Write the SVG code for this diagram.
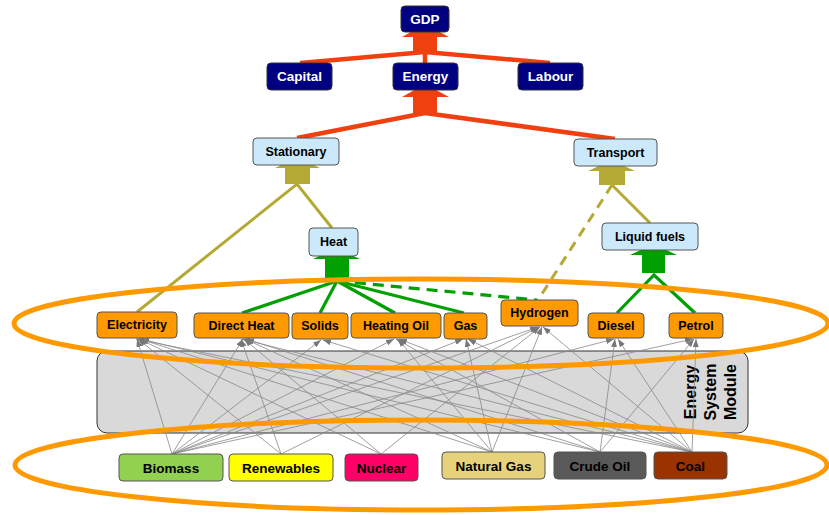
<svg xmlns="http://www.w3.org/2000/svg" width="829" height="515" viewBox="0 0 829 515">
<style>
text{font-family:"Liberation Sans",Arial,sans-serif;font-weight:bold;text-anchor:middle;dominant-baseline:central}
.navy rect{fill:#000080;stroke:#333;stroke-width:1}
.navy text{fill:#fff;font-size:13.5px}
.blue rect{fill:#cce9fb;stroke:#555;stroke-width:1}
.blue text{fill:#000;font-size:12.5px}
.org rect{fill:#ff9900;stroke:#555;stroke-width:1}
.org text{fill:#000;font-size:12.5px}
.src rect{stroke:#555;stroke-width:1}
.src text{fill:#000;font-size:13.5px}
.red{stroke:#f0400f;stroke-width:4.5;fill:none}
.olive{stroke:#b5a935;stroke-width:3;fill:none}
.green{stroke:#00a000;stroke-width:3.2;fill:none}
.gl line{stroke:#888;stroke-width:0.8;marker-end:url(#ah)}
.ring{fill:none;stroke:#ff9900;stroke-width:5}
</style>
<defs>
<marker id="ah" markerUnits="userSpaceOnUse" markerWidth="9" markerHeight="7" refX="8" refY="3" orient="auto"><path d="M0,0 L8,3 L0,6 z" fill="#777"/></marker>
</defs>
<rect width="829" height="515" fill="#fff"/>
<g id="module">
<rect x="97" y="351" width="651" height="82" rx="10" fill="#d9d9d9" stroke="#333" stroke-width="1"/>
<text transform="translate(690,392) rotate(-90)" style="font-size:16px">Energy</text>
<text transform="translate(710,392) rotate(-90)" style="font-size:16px">System</text>
<text transform="translate(730,392) rotate(-90)" style="font-size:16px">Module</text>
</g>
<g id="connectors">
<g class="gl">
<line x1="172" y1="454" x2="137" y2="339"/><line x1="172" y1="454" x2="243" y2="339"/><line x1="172" y1="454" x2="321" y2="340"/><line x1="172" y1="454" x2="394" y2="339"/><line x1="172" y1="454" x2="463" y2="339"/><line x1="172" y1="454" x2="538" y2="327"/><line x1="172" y1="454" x2="614" y2="339"/><line x1="172" y1="454" x2="693" y2="339"/>
<line x1="281" y1="454" x2="138" y2="339"/><line x1="281" y1="454" x2="241" y2="339"/><line x1="281" y1="454" x2="539" y2="327"/>
<line x1="381" y1="454" x2="139" y2="339"/><line x1="381" y1="454" x2="244" y2="339"/><line x1="381" y1="454" x2="540" y2="327"/>
<line x1="492" y1="452" x2="140" y2="339"/><line x1="492" y1="452" x2="245" y2="339"/><line x1="492" y1="452" x2="466" y2="339"/><line x1="492" y1="452" x2="542" y2="327"/><line x1="492" y1="452" x2="398" y2="339"/>
<line x1="600" y1="452" x2="141" y2="339"/><line x1="600" y1="452" x2="246" y2="339"/><line x1="600" y1="452" x2="396" y2="339"/><line x1="600" y1="452" x2="615" y2="339"/><line x1="600" y1="452" x2="694" y2="339"/>
<line x1="692" y1="452" x2="136" y2="339"/><line x1="692" y1="452" x2="242" y2="339"/><line x1="692" y1="452" x2="323" y2="340"/><line x1="692" y1="452" x2="399" y2="339"/><line x1="692" y1="452" x2="468" y2="339"/><line x1="692" y1="452" x2="543" y2="327"/><line x1="692" y1="452" x2="618" y2="339"/><line x1="692" y1="452" x2="696" y2="339"/>
</g>
<polygon points="402,37 425,24 449,37 437,37 437,52 413,52 413,37" fill="#f0400f"/>
<polyline class="red" points="300,63 425,52 550,63"/>
<line class="red" x1="425" y1="52" x2="425" y2="63"/>
<polygon points="402,97 425,84 449,97 437,97 437,113 413,113 413,97" fill="#f0400f"/>
<polyline class="red" points="297,138 425,113 615,139"/>
<polygon points="275,168 297.5,157 320,168 310,168 310,184 285,184 285,168" fill="#b5a935"/>
<polyline class="olive" points="137,312 297,184 332,228"/>
<polygon points="588,171 611.5,160 635,171 625,171 625,185 599,185 599,171" fill="#b5a935"/>
<line class="olive" x1="612" y1="185" x2="650" y2="223"/>
<line class="olive" x1="612" y1="185" x2="538" y2="300" stroke-dasharray="10,7"/>
<polygon points="313,259 336.5,248 360,259 349,259 349,280 325,280 325,259" fill="#00a000"/>
<line class="green" x1="337" y1="281" x2="242" y2="313"/>
<line class="green" x1="337" y1="281" x2="320" y2="313"/>
<line class="green" x1="337" y1="281" x2="395" y2="313"/>
<line class="green" x1="337" y1="281" x2="464" y2="313"/>
<line class="green" x1="337" y1="281" x2="537" y2="300" stroke-dasharray="11,7"/>
<polygon points="630,255 653.5,244 677,255 665,255 665,273 642,273 642,255" fill="#00a000"/>
<polyline class="green" points="617,313 654,275 695,313"/>
</g>
<ellipse class="ring" cx="421" cy="323.5" rx="407" ry="44.5"/>
<ellipse class="ring" cx="421" cy="465" rx="406" ry="45"/>
<g id="gdp" class="navy"><rect x="401" y="6" width="48" height="26" rx="4"/><text x="425" y="19">GDP</text></g>
<g id="capital" class="navy"><rect x="267" y="63" width="65" height="27" rx="4"/><text x="299.5" y="76.5">Capital</text></g>
<g id="energy" class="navy"><rect x="393" y="63" width="65" height="27" rx="4"/><text x="425.5" y="76.5">Energy</text></g>
<g id="labour" class="navy"><rect x="518" y="63" width="65" height="27" rx="4"/><text x="550.5" y="76.5">Labour</text></g>
<g id="stationary" class="blue"><rect x="253" y="138" width="86" height="27" rx="4"/><text x="296" y="151.5">Stationary</text></g>
<g id="transport" class="blue"><rect x="574" y="139" width="83" height="27" rx="4"/><text x="615.5" y="152.5">Transport</text></g>
<g id="heat" class="blue"><rect x="309" y="228" width="49" height="28" rx="4"/><text x="333.5" y="242">Heat</text></g>
<g id="liquidfuels" class="blue"><rect x="602" y="223" width="96" height="27" rx="4"/><text x="650" y="236.5">Liquid fuels</text></g>
<g id="electricity" class="org"><rect x="97" y="312" width="80" height="26" rx="4"/><text x="137" y="325">Electricity</text></g>
<g id="directheat" class="org"><rect x="194" y="313" width="95" height="25" rx="4"/><text x="241.5" y="325.5">Direct Heat</text></g>
<g id="solids" class="org"><rect x="292" y="313" width="56" height="26" rx="4"/><text x="320" y="326">Solids</text></g>
<g id="heatingoil" class="org"><rect x="351" y="313" width="90" height="25" rx="4"/><text x="396" y="325.5">Heating Oil</text></g>
<g id="gas" class="org"><rect x="444" y="313" width="43" height="26" rx="4"/><text x="465.5" y="326">Gas</text></g>
<g id="hydrogen" class="org"><rect x="501" y="300" width="77" height="26" rx="4"/><text x="539.5" y="313">Hydrogen</text></g>
<g id="diesel" class="org"><rect x="588" y="313" width="56" height="25" rx="4"/><text x="616" y="325.5">Diesel</text></g>
<g id="petrol" class="org"><rect x="669" y="313" width="54" height="25" rx="4"/><text x="696" y="325.5">Petrol</text></g>
<g id="biomass" class="src"><rect x="119" y="454" width="104" height="27" rx="4" fill="#92d050"/><text x="171" y="468">Biomass</text></g>
<g id="renewables" class="src"><rect x="229" y="454" width="104" height="27" rx="4" fill="#ffff00"/><text x="281" y="468">Renewables</text></g>
<g id="nuclear" class="src"><rect x="345" y="454" width="73" height="27" rx="4" fill="#ff0066"/><text x="381.5" y="468">Nuclear</text></g>
<g id="naturalgas" class="src"><rect x="442" y="452" width="103" height="27" rx="4" fill="#e6d27a"/><text x="493.5" y="466">Natural Gas</text></g>
<g id="crudeoil" class="src"><rect x="554" y="452" width="92" height="27" rx="4" fill="#595959"/><text x="600" y="466">Crude Oil</text></g>
<g id="coal" class="src"><rect x="654" y="452" width="73" height="27" rx="4" fill="#993300"/><text x="690.5" y="466">Coal</text></g>
</svg>
